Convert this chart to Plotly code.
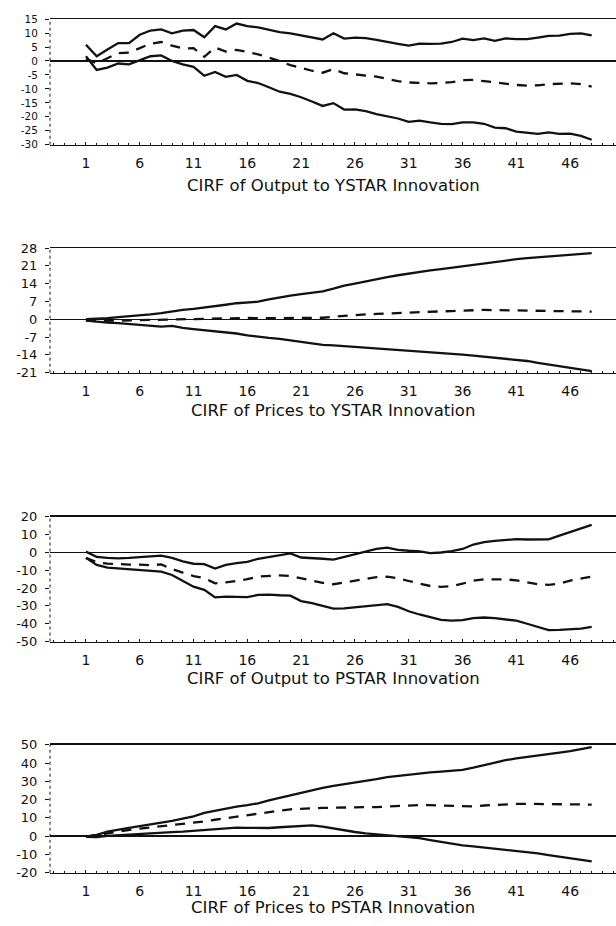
import plotly.graph_objects as go

horizon = list(range(1, 49))

# Panel 1: CIRF of Output to YSTAR Innovation
out_ystar_upper = [5.8, 1.7, 4.1, 6.4, 6.4, 9.4, 10.9, 11.3, 9.9, 10.9, 11.1, 8.5, 12.5, 11.3, 13.4, 12.5,
                   12.0, 11.1, 10.3, 9.9, 9.2, 8.5, 7.7, 9.9, 8.0, 8.4, 8.2, 7.6, 6.8, 6.1, 5.5, 6.2,
                   6.1, 6.2, 6.8, 8.0, 7.5, 8.1, 7.2, 8.1, 7.8, 7.8, 8.4, 9.0, 9.1, 9.7, 9.9, 9.2]
out_ystar_mid = [0.8, -0.8, 1.0, 2.8, 3.0, 4.5, 6.2, 6.8, 5.5, 4.5, 4.6, 1.5, 4.8, 3.4, 4.0, 3.2,
                 2.4, 1.2, 0.0, -1.5, -2.6, -3.5, -4.2, -2.9, -4.4, -4.8, -5.0, -5.6, -6.4, -7.2, -7.7, -7.9,
                 -8.0, -7.9, -7.6, -6.9, -6.8, -7.2, -7.7, -8.2, -8.6, -8.8, -8.7, -8.3, -8.1, -8.0, -8.3, -9.2]
out_ystar_lower = [1.7, -3.2, -2.4, -0.9, -1.2, 0.3, 1.7, 2.0, 0.0, -1.2, -2.1, -5.3, -3.9, -5.7, -5.0, -7.1,
                   -7.9, -9.4, -11.0, -11.8, -13.0, -14.5, -16.1, -15.1, -17.4, -17.3, -18.0, -19.0, -19.8, -20.6, -21.8, -21.4,
                   -22.0, -22.5, -22.6, -22.0, -22.0, -22.5, -23.9, -24.1, -25.3, -25.8, -26.1, -25.6, -26.1, -26.0, -26.8, -28.2]

# Panel 2: CIRF of Prices to YSTAR Innovation
pr_ystar_upper = [0.0, 0.1, 0.4, 0.8, 1.1, 1.4, 1.9, 2.4, 3.2, 3.7, 4.1, 4.6, 5.0, 5.7, 6.3, 6.6,
                  6.9, 7.8, 8.6, 9.3, 9.9, 10.5, 11.0, 12.0, 13.2, 14.0, 14.9, 15.8, 16.6, 17.3, 18.0, 18.6,
                  19.2, 19.7, 20.3, 20.7, 21.4, 22.0, 22.6, 23.1, 23.6, 24.0, 24.3, 24.6, 24.8, 25.1, 25.6, 26.0]
pr_ystar_mid = [-0.3, -0.8, -0.6, -0.5, -0.3, -0.2, -0.1, 0.0, 0.1, 0.0, 0.1, 0.2, 0.3, 0.5, 0.6, 0.5,
                0.4, 0.4, 0.4, 0.5, 0.4, 0.5, 0.6, 1.0, 1.4, 1.7, 1.9, 2.1, 2.3, 2.5, 2.7, 2.9,
                3.0, 3.1, 3.2, 3.4, 3.5, 3.7, 3.6, 3.5, 3.4, 3.4, 3.3, 3.2, 3.1, 2.9, 2.8, 3.0]
pr_ystar_lower = [-0.5, -1.0, -1.3, -1.5, -1.8, -2.0, -2.3, -2.9, -2.6, -3.4, -3.9, -4.3, -4.6, -5.0, -5.6, -6.3,
                  -6.9, -7.3, -7.7, -8.3, -8.9, -9.5, -10.1, -10.3, -10.6, -10.8, -11.0, -11.3, -11.6, -11.9, -12.3, -12.6,
                  -12.9, -13.2, -13.5, -13.9, -14.3, -14.7, -15.0, -15.5, -15.9, -16.4, -17.1, -17.8, -18.5, -19.1, -19.6, -20.4]

# Panel 3: CIRF of Output to PSTAR Innovation
out_pstar_upper = [0.5, -2.5, -3.0, -3.3, -3.0, -2.6, -2.5, -1.7, -3.0, -5.0, -6.3, -6.5, -9.0, -7.0, -6.0, -5.3,
                   -3.5, -2.6, -1.8, -0.5, -2.8, -3.0, -3.5, -4.0, -2.4, -1.0, 0.5, 2.0, 2.7, 1.5, 1.0, 0.7,
                   -0.3, 0.0, 0.8, 2.0, 4.5, 5.8, 6.5, 7.0, 7.5, 7.3, 7.3, 7.4, 9.5, 11.5, 13.5, 15.5]
out_pstar_mid = [-3.0, -5.5, -6.2, -6.7, -6.8, -6.8, -7.1, -6.7, -9.3, -11.3, -13.2, -14.3, -17.3, -16.8, -16.0, -15.0,
                 -13.5, -13.0, -12.8, -13.2, -14.5, -16.0, -17.0, -17.8, -16.8, -15.8, -14.8, -13.8, -13.6, -14.5, -16.0, -17.5,
                 -18.8, -19.3, -18.9, -17.5, -15.8, -15.1, -15.0, -15.1, -15.6, -16.6, -17.8, -18.2, -17.5, -15.8, -14.5, -13.5]
out_pstar_lower = [-3.0, -7.0, -8.5, -9.0, -9.5, -9.9, -10.3, -10.7, -12.6, -16.0, -19.2, -21.0, -25.2, -24.8, -24.7, -25.0,
                   -23.8, -23.6, -24.0, -24.2, -27.3, -28.4, -30.0, -31.5, -31.4, -30.8, -30.2, -29.5, -29.0, -30.5, -33.0, -34.8,
                   -36.5, -37.8, -38.2, -38.0, -36.8, -36.5, -36.9, -37.5, -38.3, -40.0, -42.0, -43.6, -43.4, -43.0, -42.7, -41.8]

# Panel 4: CIRF of Prices to PSTAR Innovation
pr_pstar_upper = [-0.2, 0.7, 2.5, 3.7, 4.6, 5.5, 6.4, 7.3, 8.4, 9.6, 10.9, 12.8, 14.0, 15.2, 16.2, 17.0,
                  18.0, 19.6, 21.0, 22.5, 24.0, 25.3, 26.5, 27.6, 28.4, 29.2, 30.0, 31.2, 32.3, 33.0, 33.8, 34.3,
                  34.9, 35.4, 35.8, 36.3, 37.5, 39.0, 40.3, 41.6, 42.6, 43.5, 44.2, 45.0, 45.8, 46.6, 47.8, 48.8]
pr_pstar_mid = [-0.2, 0.5, 1.5, 2.6, 3.5, 4.2, 4.8, 5.4, 6.0, 6.6, 7.3, 8.1, 9.0, 9.9, 10.7, 11.6,
                12.4, 13.3, 14.0, 14.7, 15.1, 15.3, 15.5, 15.6, 15.8, 15.9, 15.9, 15.9, 16.2, 16.6, 16.9, 17.1,
                17.0, 16.8, 16.5, 16.1, 16.3, 16.8, 17.2, 17.5, 17.7, 17.7, 17.7, 17.6, 17.4, 17.3, 17.3, 17.3]
pr_pstar_lower = [-0.3, -0.5, 0.2, 0.6, 0.9, 1.1, 1.5, 1.9, 2.2, 2.5, 3.0, 3.5, 4.1, 4.4, 4.7, 4.6,
                  4.4, 4.5, 4.9, 5.3, 5.8, 5.9, 5.3, 4.2, 3.2, 2.3, 1.6, 1.0, 0.5, 0.1, -0.4, -1.1,
                  -2.1, -3.2, -4.2, -5.0, -5.6, -6.2, -6.7, -7.2, -7.8, -8.6, -9.4, -10.3, -11.2, -12.0, -12.9, -13.8]

titles = ["CIRF of Output to YSTAR Innovation",
          "CIRF of Prices to YSTAR Innovation",
          "CIRF of Output to PSTAR Innovation",
          "CIRF of Prices to PSTAR Innovation"]
x_tickvals = [1, 6, 11, 16, 21, 26, 31, 36, 41, 46]
y_ticks = [
    [15, 10, 5, 0, -5, -10, -15, -20, -25, -30],
    [28, 21, 14, 7, 0, -7, -14, -21],
    [20, 10, 0, -10, -20, -30, -40, -50],
    [50, 40, 30, 20, 10, 0, -10, -20],
]
panels = [
    (out_ystar_lower, out_ystar_mid, out_ystar_upper),
    (pr_ystar_lower, pr_ystar_mid, pr_ystar_upper),
    (out_pstar_lower, out_pstar_mid, out_pstar_upper),
    (pr_pstar_lower, pr_pstar_mid, pr_pstar_upper),
]

W, H = 616, 926
# pixel positions (top, bottom) of each plot area
rows_px = [(12.3, 140.0), (245.0, 371.7), (518.3, 645.0), (750.0, 880.0)]
title_px = [181, 410, 683, 915]
ytick_size = [10.5, 13, 13, 13]
xleft_px = 50

fig = go.Figure()
ink = "#111111"
font_family = "DejaVu Sans, Liberation Sans, sans-serif"

for i, (lo, mid, up) in enumerate(panels):
    k = "" if i == 0 else str(i + 1)
    xa, ya = "x" + k, "y" + k
    for series, dash in ((up, "solid"), (mid, "10px,8px"), (lo, "solid")):
        fig.add_trace(go.Scatter(x=horizon, y=series, mode="lines", xaxis=xa, yaxis=ya,
                                 line=dict(color=ink, width=2.3, dash=dash), showlegend=False,
                                 hoverinfo="skip"))
    top, bot = rows_px[i]
    ydom = [1 - bot / H, 1 - top / H]
    yt = y_ticks[i]
    fig.layout["xaxis" + k] = dict(
        domain=[xleft_px / W, 1.0], range=[-2.34, 50.26], anchor=ya,
        tickvals=x_tickvals, ticktext=[str(v) for v in x_tickvals],
        ticks="inside", ticklen=3, tickcolor=ink, tickwidth=1,
        minor=dict(dtick=1, tick0=0, ticks="inside", ticklen=2, tickcolor=ink),
        showline=True, mirror=True, linecolor=ink, linewidth=1.5,
        showgrid=False, zeroline=False, ticklabelstandoff=5,
        tickfont=dict(family=font_family, size=14, color=ink),
    )
    fig.layout["yaxis" + k] = dict(
        domain=ydom, range=[min(yt), max(yt)], anchor=xa,
        tickvals=yt, ticktext=[str(v) for v in yt],
        ticks="outside", ticklen=4, tickcolor=ink, tickwidth=1,
        showline=False, showgrid=False, ticklabelstandoff=5,
        zeroline=True, zerolinecolor=ink, zerolinewidth=1.5,
        tickfont=dict(family=font_family, size=ytick_size[i], color=ink),
    )
    fig.add_shape(type="line", xref=xa + " domain", yref=ya + " domain",
                  x0=0, x1=0, y0=0, y1=1, line=dict(color=ink, width=1, dash="dot"))
    fig.add_annotation(text=titles[i], xref="paper", yref="paper",
                       x=333 / W, y=1 - title_px[i] / H, xanchor="center", yanchor="middle",
                       showarrow=False, font=dict(family=font_family, size=16.5, color=ink))

fig.update_layout(width=W, height=H, margin=dict(l=0, r=0, t=0, b=0),
                  paper_bgcolor="white", plot_bgcolor="white")
fig.write_html("out.html", config={"displayModeBar": False, "staticPlot": True})

# remove the browser's default page margin so the figure sits at the window origin
with open("out.html", "r", encoding="utf-8") as f:
    html = f.read()
html = html.replace("<head>", "<head><style>html,body{margin:0;padding:0;overflow:hidden;}</style>", 1)
with open("out.html", "w", encoding="utf-8") as f:
    f.write(html)
